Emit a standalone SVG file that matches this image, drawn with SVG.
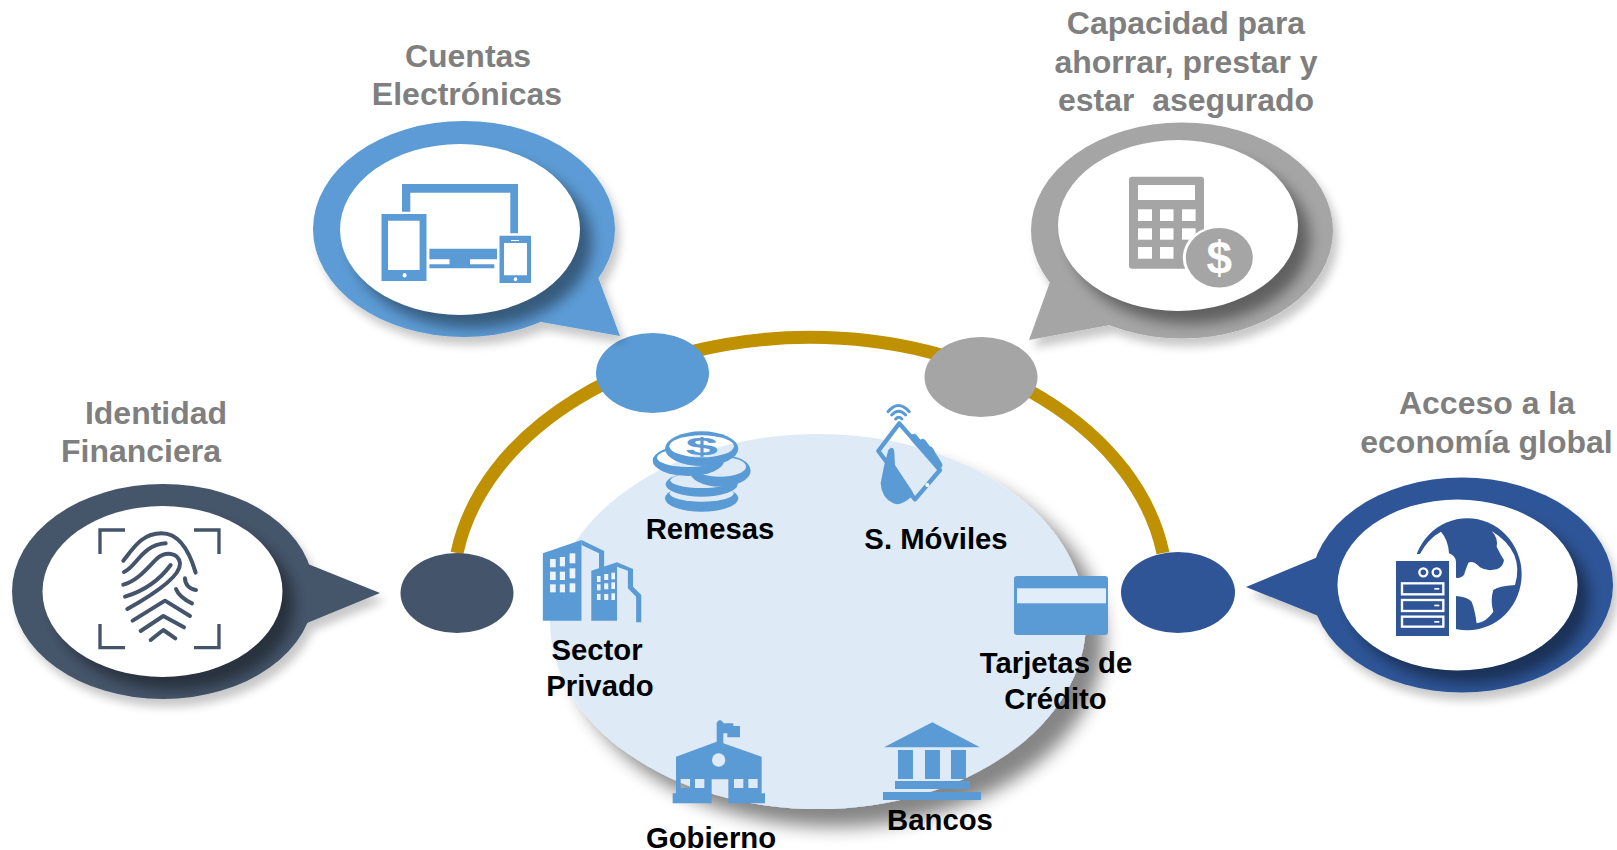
<svg xmlns="http://www.w3.org/2000/svg" width="1617" height="850" viewBox="0 0 1617 850">
<style>
text{font-family:"Liberation Sans",Arial,sans-serif;font-weight:700;text-anchor:middle;white-space:pre}
.h{font-size:32px;fill:#7f7f7f}
.l{font-size:29.300px;fill:#000}
.ic{fill:#5b9bd5}
.w{fill:#fff}
.fp{fill:none;stroke:#44546a;stroke-width:12;stroke-linecap:round;stroke-linejoin:round}
.br{fill:none;stroke:#44546a;stroke-width:10}
</style>
<defs>
<filter id="fo" x="-20%" y="-20%" width="140%" height="150%"><feGaussianBlur in="SourceAlpha" stdDeviation="5"/><feOffset dx="5" dy="8"/><feComponentTransfer><feFuncA type="linear" slope="0.22"/></feComponentTransfer><feMerge><feMergeNode/><feMergeNode in="SourceGraphic"/></feMerge></filter>
<filter id="fi" x="-20%" y="-20%" width="150%" height="150%"><feGaussianBlur in="SourceAlpha" stdDeviation="7"/><feOffset dx="12" dy="13"/><feComponentTransfer><feFuncA type="linear" slope="0.42"/></feComponentTransfer><feMerge><feMergeNode/></feMerge></filter>
<filter id="fe" x="-15%" y="-15%" width="135%" height="135%"><feGaussianBlur in="SourceAlpha" stdDeviation="9"/><feOffset dx="18" dy="18"/><feComponentTransfer><feFuncA type="linear" slope="0.48"/></feComponentTransfer><feMerge><feMergeNode/><feMergeNode in="SourceGraphic"/></feMerge></filter>
<clipPath id="cb"><ellipse cx="464" cy="229" rx="151" ry="108"/><polygon points="598,277 620,336 541,322 500,300"/></clipPath>
<clipPath id="cg"><ellipse cx="1182" cy="230.500" rx="151" ry="108"/><polygon points="1050,282 1029,340 1110,325 1150,280"/></clipPath>
<clipPath id="cd"><ellipse cx="163" cy="591.500" rx="151" ry="107.500"/><polygon points="308,564 380,593 307,623 280,590"/></clipPath>
<clipPath id="cn"><ellipse cx="1462" cy="585" rx="151" ry="107.500"/><polygon points="1318,557 1246,587 1321,617 1350,590"/></clipPath>
<mask id="coins" maskUnits="userSpaceOnUse" x="0" y="0" width="500" height="500">
<ellipse class="w" cx="215" cy="325" rx="110" ry="40"/><ellipse cx="215" cy="310" rx="96" ry="25"/>
<ellipse class="w" cx="215" cy="283" rx="108" ry="37"/><ellipse cx="215" cy="271" rx="94" ry="23"/>
<ellipse class="w" cx="270" cy="242" rx="92" ry="48"/><ellipse cx="270" cy="230" rx="78" ry="30"/>
<ellipse class="w" cx="175" cy="212" rx="107" ry="46"/><ellipse cx="175" cy="203" rx="94" ry="28"/>
<ellipse class="w" cx="215" cy="176" rx="110" ry="52"/><ellipse cx="215" cy="169" rx="97" ry="33"/>
</mask>
</defs>

<g id="sectores">
<ellipse cx="818" cy="621.500" rx="268" ry="187.500" fill="#deebf7" filter="url(#fe)"/>
</g>

<g id="connectors">
<path d="M457,553 A357,253.500 0 0 1 1163,553" fill="none" stroke="#bf9000" stroke-width="13"/>
</g>

<g id="nodo-cuentas"><ellipse cx="652.500" cy="373" rx="56.500" ry="40" fill="#5b9bd5"/></g>
<g id="nodo-capacidad"><ellipse cx="981" cy="377" rx="56.500" ry="40" fill="#a5a5a5"/></g>
<g id="nodo-identidad"><ellipse cx="457" cy="593" rx="56.500" ry="40" fill="#44546a"/></g>
<g id="nodo-acceso"><ellipse cx="1178" cy="592.500" rx="57" ry="40.500" fill="#2f5597"/></g>

<g id="burbuja-cuentas">
<g filter="url(#fo)" fill="#5b9bd5"><ellipse cx="464" cy="229" rx="151" ry="108"/><polygon points="598,277 620,336 541,322 500,300"/></g>
<g clip-path="url(#cb)"><ellipse cx="460" cy="229.500" rx="120" ry="85.500" filter="url(#fi)"/></g>
<ellipse class="w" cx="460" cy="229.500" rx="120" ry="85.500"/>
<path class="ic" d="M402,211.700V184H518V233.300H510.300V192.700H410.300V211.700Z"/>
<path class="ic" fill-rule="evenodd" d="M381.500,214H426.500V281H381.500ZM388,220.700V270H419.600V220.700Z"/>
<ellipse class="w" cx="404.600" cy="275.300" rx="2" ry="2.200"/>
<path class="ic" d="M429.400,248.700H497V259.300H470V264.300H494.300V268.300H429.400V264.300H449.500V259.300H429.400Z"/>
<path class="ic" fill-rule="evenodd" d="M499.500,235.700H531V283H499.500ZM504,243V275.300H527V243Z"/>
<rect class="w" x="511" y="240" width="8" height="1"/><ellipse class="w" cx="515.500" cy="279.300" rx="1.700" ry="2"/>
</g>

<g id="burbuja-capacidad">
<g filter="url(#fo)" fill="#a5a5a5"><ellipse cx="1182" cy="230.500" rx="151" ry="108"/><polygon points="1050,282 1029,340 1110,325 1150,280"/></g>
<g clip-path="url(#cg)"><ellipse cx="1178" cy="225.500" rx="120" ry="85.500" filter="url(#fi)"/></g>
<ellipse class="w" cx="1178" cy="225.500" rx="120" ry="85.500"/>
<rect x="1129" y="176.700" width="75" height="92" rx="3" fill="#a5a5a5"/>
<g class="w"><rect x="1138" y="185" width="57" height="15"/>
<rect x="1138" y="209.300" width="14" height="11.700"/><rect x="1160" y="209.300" width="13.500" height="11.700"/><rect x="1182" y="209.300" width="13.600" height="11.700"/>
<rect x="1138" y="228.300" width="14" height="11.400"/><rect x="1160" y="228.300" width="13.500" height="11.400"/><rect x="1182" y="228.300" width="13.600" height="11.400"/>
<rect x="1138" y="247" width="14" height="11.700"/><rect x="1160" y="247" width="13.500" height="11.700"/></g>
<ellipse cx="1219.300" cy="257.700" rx="36.500" ry="32" fill="#fff"/>
<ellipse cx="1219.300" cy="257.700" rx="33.500" ry="29.700" fill="#a5a5a5"/>
<text x="1219.300" y="274" style="font-size:46px;fill:#fff">$</text>
</g>

<g id="burbuja-identidad">
<g filter="url(#fo)" fill="#44546a"><ellipse cx="163" cy="591.500" rx="151" ry="107.500"/><polygon points="308,564 380,593 307,623 280,590"/></g>
<g clip-path="url(#cd)"><ellipse cx="162.500" cy="591.500" rx="120" ry="85.500" filter="url(#fi)"/></g>
<ellipse class="w" cx="162.500" cy="591.500" rx="120" ry="85.500"/>
<g transform="translate(70,510) scale(0.3333)">
<path class="br" d="M165,60H90V132M372,60H447V132M90,342V413H165M447,342V413H372"/>
<path class="fp" d="M160,152C190,115 215,70 275,70C330,70 360,130 377,188M162,186C200,170 215,105 287,100M160,224C205,212 235,170 262,145C285,125 325,125 330,160C332,195 265,245 172,297M165,260C215,245 265,215 302,165M345,205C345,225 360,238 378,240M318,237C325,255 345,270 366,280M188,332L285,272L360,318M212,363L280,318L342,352M242,390L280,360L316,385"/>
</g>
</g>

<g id="burbuja-acceso">
<g filter="url(#fo)" fill="#2f5597"><ellipse cx="1462" cy="585" rx="151" ry="107.500"/><polygon points="1318,557 1246,587 1321,617 1350,590"/></g>
<g clip-path="url(#cn)"><ellipse cx="1457.500" cy="585" rx="120" ry="85.500" filter="url(#fi)"/></g>
<ellipse class="w" cx="1457.500" cy="585" rx="120" ry="85.500"/>
<g transform="translate(1380,510) scale(0.3333)">
<ellipse cx="262" cy="193" rx="163" ry="168" fill="#2f5597"/>
<path class="w" d="M120,132Q145,85 183,65Q205,90 207,130Q225,135 228,155V365H80V132Z"/>
<path class="w" d="M335,63Q355,85 350,110Q365,140 372,150Q370,170 350,178Q320,185 300,172Q280,150 265,158Q258,175 252,195Q240,208 228,203V258Q265,262 275,275Q285,300 290,340Q320,335 340,305Q330,270 340,240Q355,228 405,225Q435,125 335,63Z"/>
<rect x="48" y="153" width="159" height="225" fill="#2f5597"/>
<g fill="#2f5597" stroke="#fff" stroke-width="7">
<circle cx="130" cy="187" r="12"/><circle cx="170" cy="187" r="12"/>
<rect x="66" y="220" width="124" height="33"/><rect x="66" y="270" width="124" height="33"/><rect x="66" y="320" width="124" height="30"/>
</g>
<g class="w"><rect x="163" y="234" width="15" height="5"/><rect x="163" y="284" width="15" height="5"/><rect x="163" y="333" width="15" height="5"/></g>
</g>
</g>

<g id="icono-remesas" transform="translate(630,390) scale(0.3333)">
<rect class="ic" x="0" y="0" width="500" height="500" mask="url(#coins)"/>
<text transform="translate(215,196) scale(2.5,1)" style="font-size:70px;fill:#5b9bd5">$</text>
</g>
<g id="icono-movil" transform="translate(630,390) scale(0.3333)">
<g fill="none" stroke="#5b9bd5" stroke-linecap="round">
<path d="M774,65Q805,28 838,65" stroke-width="9"/><path d="M785,75Q806,52 827,75" stroke-width="9"/><path d="M797,87Q806,76 816,87" stroke-width="9"/>
<path d="M808,100L930,240L855,328L745,183Z" stroke-width="13" stroke-linejoin="round"/>
<path d="M852,143L866,160M878,158L894,180M899,180L912,203M914,205L926,225" stroke-width="22"/>
</g>
<path class="ic" d="M775,180Q790,165 793,185L795,225L848,305Q850,315 845,320Q810,350 790,340Q755,325 752,280Q760,230 775,180Z"/>
<circle class="w" cx="892" cy="285" r="6"/>
</g>
<g id="icono-sector" transform="translate(0,425) scale(0.5155,0.3333)">
<g class="ic">
<polygon points="1053,385 1128,345 1128,587 1053,587"/>
<polygon points="1128,345 1172,378 1172,428 1162,432 1162,385 1128,360"/>
<polygon points="1147,437 1197,412 1197,587 1147,587"/>
<polygon points="1197,412 1228,432 1228,485 1244,510 1244,592 1234,592 1234,515 1218,490 1218,437 1197,425"/>
</g>
<g fill="#eef4fa">
<rect x="1067" y="402" width="11" height="25"/><rect x="1086" y="396" width="10" height="28"/><rect x="1105" y="385" width="11" height="30"/>
<rect x="1067" y="440" width="11" height="25"/><rect x="1086" y="440" width="10" height="25"/><rect x="1105" y="430" width="11" height="30"/>
<rect x="1067" y="478" width="11" height="24"/><rect x="1086" y="478" width="10" height="24"/><rect x="1105" y="475" width="11" height="27"/>
<rect x="1158" y="453" width="7" height="18"/><rect x="1172" y="447" width="8" height="18"/><rect x="1186" y="443" width="7" height="20"/>
<rect x="1158" y="478" width="7" height="18"/><rect x="1172" y="475" width="8" height="18"/><rect x="1186" y="472" width="7" height="20"/>
<rect x="1158" y="507" width="7" height="18"/><rect x="1172" y="507" width="8" height="18"/><rect x="1186" y="505" width="7" height="20"/>
</g>
</g>
<g id="icono-tarjeta">
<rect class="ic" x="1014" y="576" width="94" height="59" rx="3"/>
<rect x="1017" y="588.300" width="89" height="15" fill="#fff" opacity="0.82"/>
</g>
<g id="icono-gobierno" transform="translate(660,710) scale(0.3333)">
<path class="ic" fill-rule="evenodd" d="M170,38Q180,22 190,38V40H220V48H240V82H202V70H190V100L305,140V250H315V280H205V208H155V280H38V250H48V140L170,95ZM62,207V234H90V207ZM105,207V234H133V207ZM222,207V234H250V207ZM265,207V234H293V207Z"/>
<circle cx="176" cy="150" r="20" fill="#deebf7"/>
</g>
<g id="icono-bancos" transform="translate(660,710) scale(0.3333)">
<g class="ic">
<polygon points="672,112 817,37 960,112"/>
<rect x="714" y="120" width="45" height="87"/><rect x="795" y="120" width="45" height="87"/><rect x="873" y="120" width="45" height="87"/>
<rect x="705" y="213" width="225" height="24"/><rect x="669" y="246" width="294" height="24"/>
</g>
</g>

<g id="etiquetas">
<text class="h" x="468" y="67">Cuentas</text>
<text class="h" x="467" y="105">Electrónicas</text>
<text class="h" x="1186" y="34">Capacidad para</text>
<text class="h" x="1186" y="73">ahorrar, prestar y</text>
<text class="h" x="1186" y="110.500">estar  asegurado</text>
<text class="h" x="156" y="424">Identidad</text>
<text class="h" x="141" y="462">Financiera</text>
<text class="h" x="1487" y="414">Acceso a la</text>
<text class="h" x="1486.500" y="453">economía global</text>
<text class="l" x="710" y="539">Remesas</text>
<text class="l" x="936" y="549">S. Móviles</text>
<text class="l" x="597" y="660">Sector</text>
<text class="l" x="600" y="696">Privado</text>
<text class="l" x="1056" y="673">Tarjetas de</text>
<text class="l" x="1055.500" y="708.500">Crédito</text>
<text class="l" x="711" y="848">Gobierno</text>
<text class="l" x="940" y="830">Bancos</text>
</g>
</svg>
